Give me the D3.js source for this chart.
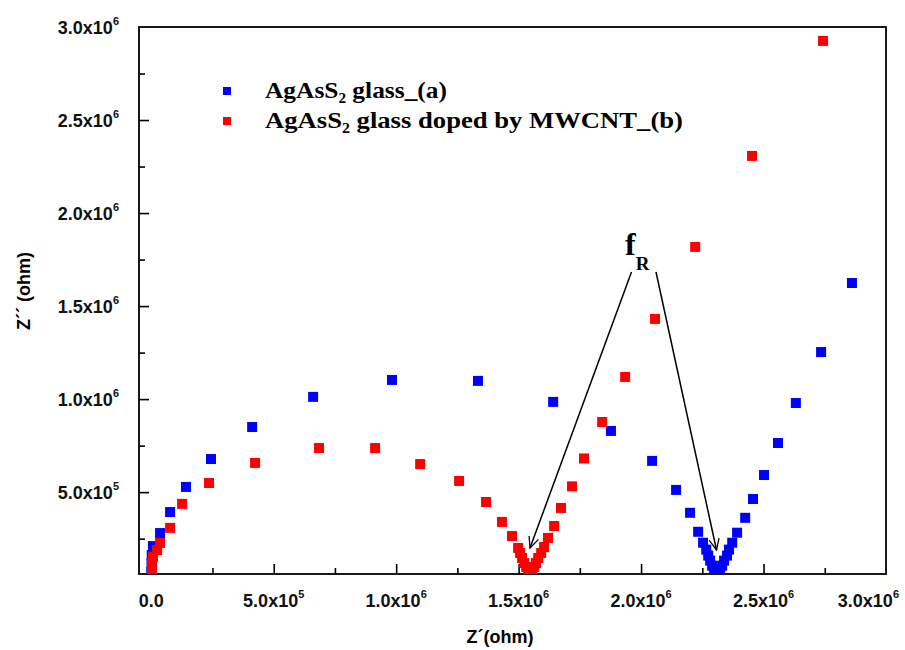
<!DOCTYPE html>
<html><head><meta charset="utf-8">
<script src="https://cdn.jsdelivr.net/npm/d3@7/dist/d3.min.js"></script>
<style>body{margin:0;background:#fff}svg{display:block}</style>
</head><body><svg id="c" width="905" height="650"></svg>
<script>
// ---- data (ohm) ----
const seriesNames = ["glass_(a)", "glass doped by MWCNT_(b)"];
const seriesColors = ["#0000ff", "#ff0000"];

const zRealA = [0, 1000, 2000, 7000, 36000, 77000, 142000, 244000, 412000, 661000, 983000, 1334000, 1641000, 1877000, 2045000, 2143000, 2200000, 2233000, 2253000, 2266000, 2274000, 2282000, 2290000, 2298000, 2306000, 2314000, 2323000, 2331000, 2339000, 2351000, 2359000, 2372000, 2392000, 2425000, 2457000, 2502000, 2559000, 2632000, 2735000, 2861000];
const zImagA = [71000, 119000, 162000, 210000, 280000, 393000, 528000, 678000, 850000, 1012000, 1103000, 1098000, 985000, 829000, 668000, 512000, 389000, 287000, 228000, 191000, 159000, 132000, 105000, 83000, 66000, 66000, 83000, 105000, 132000, 159000, 191000, 228000, 282000, 362000, 463000, 592000, 764000, 979000, 1253000, 1624000];

const zRealB = [3000, 3000, 7000, 24000, 36000, 77000, 126000, 236000, 424000, 685000, 914000, 1098000, 1257000, 1367000, 1432000, 1473000, 1498000, 1506000, 1514000, 1523000, 1531000, 1539000, 1547000, 1555000, 1563000, 1571000, 1580000, 1592000, 1604000, 1620000, 1645000, 1673000, 1718000, 1767000, 1841000, 1935000, 2057000, 2221000, 2453000, 2743000];
const zImagB = [77000, 119000, 152000, 189000, 227000, 308000, 437000, 549000, 657000, 737000, 737000, 651000, 560000, 447000, 340000, 264000, 200000, 173000, 146000, 119000, 98000, 77000, 66000, 77000, 98000, 119000, 146000, 173000, 205000, 254000, 318000, 415000, 531000, 681000, 877000, 1119000, 1431000, 1818000, 2307000, 2925000];

const xTicks = [0, 5e5, 1e6, 1.5e6, 2e6, 2.5e6, 3e6];
const xMinorTicks = [2.5e5, 7.5e5, 1.25e6, 1.75e6, 2.25e6, 2.75e6];
const yTicks = [5e5, 1e6, 1.5e6, 2e6, 2.5e6, 3e6];
const yMinorTicks = [2.5e5, 7.5e5, 1.25e6, 1.75e6, 2.25e6, 2.75e6];
const xLabel = "Z\u00B4(ohm)";
const yLabel = "Z\u00B4\u00B4 (ohm)";

// ---- layout ----
const L = 139, R = 886, T = 27, B = 574;
const x = d3.scaleLinear().domain([-5e4, 3.0e6]).range([L, R]);
const y = d3.scaleLinear().domain([6e4, 3.0e6]).range([B, T]);
const svg = d3.select("#c");

svg.append("defs").append("clipPath").attr("id", "clip")
  .append("rect").attr("x", L).attr("y", T).attr("width", R - L).attr("height", B - T);

// ticks (inward)
const gx = svg.append("g").attr("transform", `translate(0,${B})`)
  .call(d3.axisBottom(x).tickValues(xTicks.filter(v => v > 0 && v < 3e6)).tickSize(-10).tickFormat(() => ""));
const gxm = svg.append("g").attr("transform", `translate(0,${B})`)
  .call(d3.axisBottom(x).tickValues(xMinorTicks).tickSize(-6).tickFormat(() => ""));
const gy = svg.append("g").attr("transform", `translate(${L},0)`)
  .call(d3.axisLeft(y).tickValues(yTicks.filter(v => v < 3e6)).tickSize(-10).tickFormat(() => ""));
const gym = svg.append("g").attr("transform", `translate(${L},0)`)
  .call(d3.axisLeft(y).tickValues(yMinorTicks).tickSize(-6).tickFormat(() => ""));
[gx, gxm, gy, gym].forEach(g => {
  g.select(".domain").remove();
  g.selectAll("line").attr("stroke", "#000").attr("stroke-width", 1.6);
});

// frame
svg.append("rect").attr("x", L).attr("y", T).attr("width", R - L).attr("height", B - T)
  .attr("fill", "none").attr("stroke", "#000").attr("stroke-width", 1.8);

// tick labels with superscripts
function sciLabel(sel, v) {
  if (v === 0) { sel.append("tspan").text("0.0"); return; }
  const e = Math.floor(Math.log10(v));
  const m = (v / Math.pow(10, e)).toFixed(1);
  sel.append("tspan").text(m + "x10");
  sel.append("tspan").attr("dy", -9).attr("font-size", 11).text(e);
}
const tickFont = "'Liberation Sans', Arial, sans-serif";
xTicks.forEach((v, i) => {
  const last = i === xTicks.length - 1;
  const t = svg.append("text").attr("x", last ? 899 : x(v)).attr("y", 607)
    .attr("text-anchor", last ? "end" : "middle").attr("font-family", tickFont).attr("font-weight", "bold")
    .attr("font-size", 18).attr("fill", "#111");
  sciLabel(t, v);
});
yTicks.forEach(v => {
  const t = svg.append("text").attr("x", 119).attr("y", y(v) + 7)
    .attr("text-anchor", "end").attr("font-family", tickFont).attr("font-weight", "bold")
    .attr("font-size", 18).attr("fill", "#111");
  sciLabel(t, v);
});

// axis titles
svg.append("text").attr("x", 500).attr("y", 643).attr("text-anchor", "middle")
  .attr("font-family", tickFont).attr("font-weight", "bold").attr("font-size", 18).text(xLabel);
svg.append("text").attr("transform", "translate(30,291) rotate(-90)").attr("text-anchor", "middle")
  .attr("font-family", tickFont).attr("font-weight", "bold").attr("font-size", 18).text(yLabel);

// data
const series = [
  { xs: zRealA, ys: zImagA, color: seriesColors[0] },
  { xs: zRealB, ys: zImagB, color: seriesColors[1] }
];
const plot = svg.append("g").attr("clip-path", "url(#clip)");
const S = 10;
series.forEach(s => {
  plot.append("g").selectAll("rect").data(d3.range(s.xs.length)).join("rect")
    .attr("x", i => x(s.xs[i]) - S / 2).attr("y", i => y(s.ys[i]) - S / 2)
    .attr("width", S).attr("height", S).attr("fill", s.color);
});

// legend
const serif = "'Liberation Serif', 'Times New Roman', serif";
const legendWidths = [182, 418];
[0, 1].forEach(i => {
  const ly = 91 + i * 30;
  svg.append("rect").attr("x", 223).attr("y", ly - 4).attr("width", 8).attr("height", 8).attr("fill", seriesColors[i]);
  const t = svg.append("text").attr("x", 265).attr("y", ly + 7).attr("font-family", serif)
    .attr("font-weight", "bold").attr("font-size", 23.5).attr("fill", "#000")
    .attr("textLength", legendWidths[i]).attr("lengthAdjust", "spacingAndGlyphs");
  t.append("tspan").text("AgAsS");
  t.append("tspan").attr("dy", 5).attr("font-size", 14).text("2");
  t.append("tspan").attr("dy", -5).text(" " + seriesNames[i]);
});

// fR annotation
const ann = svg.append("text").attr("x", 625).attr("y", 255).attr("font-family", serif).attr("font-weight", "bold");
ann.append("tspan").attr("font-size", 32).text("f");
ann.append("tspan").attr("font-size", 19).attr("dy", 15).text("R");

svg.append("defs").append("marker").attr("id", "arr").attr("viewBox", "-12 -6 14 12")
  .attr("refX", 0).attr("refY", 0).attr("markerWidth", 14).attr("markerHeight", 12)
  .attr("markerUnits", "userSpaceOnUse").attr("orient", "auto")
  .append("path").attr("d", "M-11,-5 L0,0 L-11,5").attr("fill", "none").attr("stroke", "#000").attr("stroke-width", 1.3);

const arrows = [[631.5, 272, 530, 548], [656, 272, 716.5, 550]];
arrows.forEach(a => {
  svg.append("line").attr("x1", a[0]).attr("y1", a[1]).attr("x2", a[2]).attr("y2", a[3])
    .attr("stroke", "#000").attr("stroke-width", 1.5).attr("marker-end", "url(#arr)");
});
</script></body></html>
